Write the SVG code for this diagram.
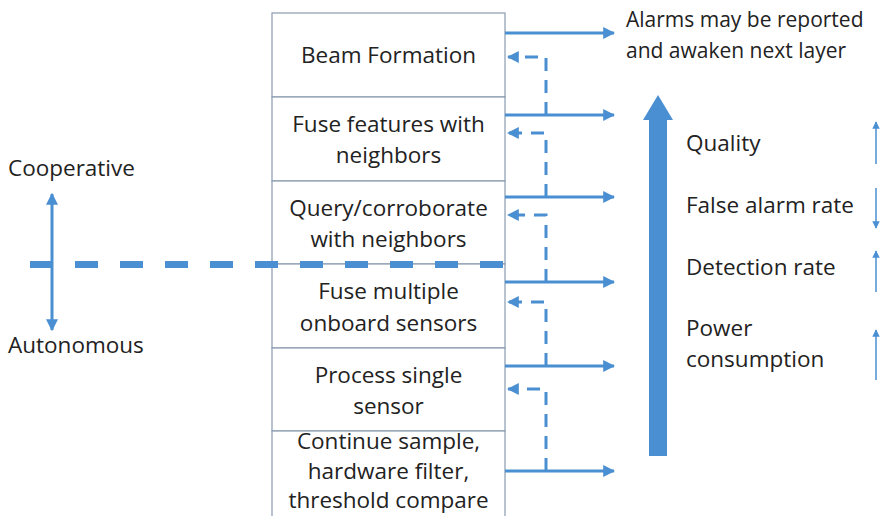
<svg xmlns="http://www.w3.org/2000/svg" width="885" height="516" viewBox="0 0 885 516">
<defs>
<style>
text{font-family:"Open Sans","Liberation Sans",Arial,sans-serif;font-size:22.5px;fill:#222}
.c{text-anchor:middle}
.a{font-size:21px}
.box{fill:#fff;stroke:#8a9bb0;stroke-width:1.2}
.sol{stroke:#4a8fd2;stroke-width:3;fill:none}
.dash{stroke:#4a8fd2;stroke-width:3;fill:none;stroke-dasharray:13 9}
.thin{stroke:#4a8fd2;stroke-width:1.5;fill:none}
</style>
<marker id="ah" viewBox="0 0 10 10" refX="9" refY="5" markerWidth="4" markerHeight="4" orient="auto" markerUnits="strokeWidth"><path d="M0,0L10,5L0,10z" fill="#4a8fd2"/></marker>
<marker id="as" viewBox="0 0 10 10" refX="9" refY="5" markerWidth="5" markerHeight="5" orient="auto" markerUnits="strokeWidth"><path d="M0,0L10,5L0,10z" fill="#4a8fd2"/></marker>
</defs>
<rect width="885" height="516" fill="#fff"/>
<g id="layer-beam"><rect class="box" x="272" y="13" width="233" height="84"/><text class="c" x="388.5" y="63">Beam Formation</text></g>
<g id="layer-fuse-features"><rect class="box" x="272" y="97" width="233" height="84"/><text class="c" x="388.5" y="132">Fuse features with</text><text class="c" x="388.5" y="163">neighbors</text></g>
<g id="layer-query"><rect class="box" x="272" y="181" width="233" height="83"/><text class="c" x="388.5" y="216">Query/corroborate</text><text class="c" x="388.5" y="247">with neighbors</text></g>
<g id="layer-fuse-multiple"><rect class="box" x="272" y="264" width="233" height="84"/><text class="c" x="388.5" y="299">Fuse multiple</text><text class="c" x="388.5" y="331">onboard sensors</text></g>
<g id="layer-process"><rect class="box" x="272" y="348" width="233" height="83"/><text class="c" x="388.5" y="383">Process single</text><text class="c" x="388.5" y="414">sensor</text></g>
<g id="layer-continue"><rect class="box" x="272" y="431" width="233" height="86"/><text class="c" x="388.5" y="449">Continue sample,</text><text class="c" x="388.5" y="479">hardware filter,</text><text class="c" x="388.5" y="508">threshold compare</text></g>
<g id="alarms"><text class="a" x="626" y="27">Alarms may be reported</text><text class="a" x="626" y="58">and awaken next layer</text></g>
<g id="metrics"><text x="686" y="151">Quality</text><text x="686" y="213">False alarm rate</text><text x="686" y="275">Detection rate</text><text x="686" y="336">Power</text><text x="686" y="367">consumption</text></g>
<g id="modes"><text x="8" y="176">Cooperative</text><text x="8" y="353">Autonomous</text></g>
<g id="connectors">
<line class="sol" x1="505" y1="33" x2="614" y2="33" marker-end="url(#ah)"/>
<line class="sol" x1="505" y1="115" x2="614" y2="115" marker-end="url(#ah)"/>
<line class="sol" x1="505" y1="197" x2="614" y2="197" marker-end="url(#ah)"/>
<line class="sol" x1="505" y1="282" x2="614" y2="282" marker-end="url(#ah)"/>
<line class="sol" x1="505" y1="366" x2="614" y2="366" marker-end="url(#ah)"/>
<line class="sol" x1="505" y1="471" x2="614" y2="471" marker-end="url(#ah)"/>
<path class="dash" d="M546,115V57H508" marker-end="url(#ah)"/>
<path class="dash" d="M546,197V133H508" marker-end="url(#ah)"/>
<path class="dash" d="M546,282V215H508" marker-end="url(#ah)"/>
<path class="dash" d="M546,366V302H508" marker-end="url(#ah)"/>
<path class="dash" d="M546,471V389H508" marker-end="url(#ah)"/>
<line x1="30" y1="264.5" x2="505" y2="264.5" stroke="#4a8fd2" stroke-width="7" stroke-dasharray="23 22"/>
<line class="sol" x1="52" y1="264" x2="52" y2="194" marker-end="url(#ah)"/>
<line class="sol" x1="52" y1="264" x2="52" y2="330" marker-end="url(#ah)"/>
<path d="M649,456V120H643L658,95L673,120H667V456Z" fill="#4a8fd2"/>
<line class="thin" x1="876" y1="164" x2="876" y2="122" marker-end="url(#as)"/>
<line class="thin" x1="876" y1="188" x2="876" y2="228" marker-end="url(#as)"/>
<line class="thin" x1="876" y1="292" x2="876" y2="251" marker-end="url(#as)"/>
<line class="thin" x1="876" y1="380" x2="876" y2="330" marker-end="url(#as)"/>
</g>
</svg>
